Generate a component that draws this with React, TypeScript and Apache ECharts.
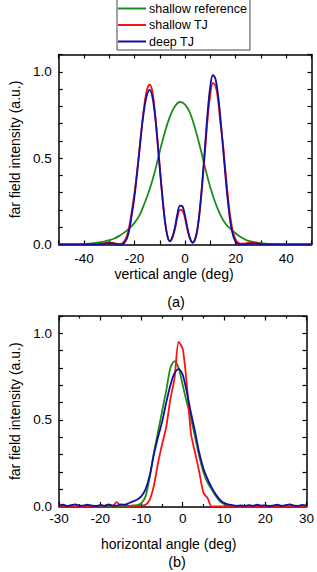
import React, { useEffect, useRef } from "react";
import * as echarts from "echarts";

// ---- (a) vertical far field ----
const vAngleRef = [-50, -46, -42, -40, -38, -36, -34, -32, -30, -28, -26, -24, -22, -20, -18, -16, -14, -12, -10, -8, -6, -4, -2, 0, 2, 4, 6, 8, 10, 12, 14, 16, 18, 20, 22, 24, 26, 28, 30, 32, 34, 38, 42, 46, 50];
const vShallowRef = [0, 0, 0.001, 0.003, 0.005, 0.008, 0.012, 0.017, 0.025, 0.035, 0.05, 0.07, 0.095, 0.125, 0.17, 0.24, 0.32, 0.42, 0.54, 0.65, 0.74, 0.8, 0.825, 0.81, 0.76, 0.67, 0.56, 0.44, 0.33, 0.24, 0.17, 0.12, 0.09, 0.065, 0.043, 0.027, 0.018, 0.012, 0.008, 0.005, 0.003, 0.001, 0, 0, 0];

const vAngleTJ = [-50, -44, -38, -34, -32, -30, -28, -26, -25, -24, -23, -22, -21, -20, -19, -18, -17, -16, -15, -14, -13, -12, -11, -10, -9, -8, -7, -6, -5, -4, -3, -2, -1, 0, 1, 2, 3, 4, 5, 6, 7, 8, 9, 10, 11, 12, 13, 14, 15, 16, 17, 18, 19, 20, 21, 22, 24, 26, 28, 30, 32, 36, 44, 50];
const vShallowTJ = [0, 0, 0.001, 0.003, 0.008, 0.012, 0.008, 0.002, 0.005, 0.02, 0.05, 0.11, 0.2, 0.3, 0.42, 0.56, 0.7, 0.82, 0.9, 0.925, 0.89, 0.78, 0.62, 0.45, 0.28, 0.14, 0.05, 0.018, 0.04, 0.09, 0.16, 0.2, 0.195, 0.15, 0.08, 0.03, 0.012, 0.035, 0.1, 0.22, 0.38, 0.56, 0.74, 0.87, 0.935, 0.92, 0.84, 0.7, 0.58, 0.42, 0.27, 0.15, 0.07, 0.03, 0.01, 0.005, 0.006, 0.012, 0.01, 0.004, 0.001, 0, 0, 0];
const vDeepTJ = [0, 0, 0, 0.001, 0.004, 0.008, 0.004, 0, 0, 0.01, 0.035, 0.09, 0.18, 0.28, 0.41, 0.55, 0.69, 0.8, 0.87, 0.895, 0.86, 0.76, 0.61, 0.44, 0.28, 0.14, 0.05, 0.018, 0.045, 0.1, 0.18, 0.225, 0.22, 0.165, 0.09, 0.035, 0.01, 0.03, 0.1, 0.23, 0.4, 0.59, 0.78, 0.92, 0.98, 0.96, 0.87, 0.73, 0.56, 0.39, 0.24, 0.12, 0.05, 0.015, 0.003, 0, 0.002, 0.005, 0.006, 0.002, 0, 0, 0, 0];

// ---- (b) horizontal far field ----
const hAngle = [-30, -29, -28, -27, -26, -25, -24, -23, -22, -21, -20, -19, -18, -17, -16, -15, -14, -13, -12, -11, -10, -9, -8, -7, -6, -5, -4, -3, -2, -1, 0, 1, 2, 3, 4, 5, 6, 7, 8, 9, 10, 11, 12, 13, 14, 15, 16, 17, 18, 19, 20, 21, 22, 23, 24, 25, 26, 27, 28, 29, 30];
const hShallowRef = [0, 0, 0, 0, 0, 0, 0, 0, 0, 0, 0, 0, 0, 0, 0, 0, 0, 0, 0.003, 0.008, 0.02, 0.06, 0.17, 0.31, 0.43, 0.55, 0.67, 0.8, 0.84, 0.8, 0.7, 0.6, 0.51, 0.4, 0.29, 0.2, 0.14, 0.1, 0.06, 0.03, 0.015, 0.005, 0, 0, 0, 0, 0, 0, 0, 0, 0, 0, 0, 0, 0, 0, 0, 0, 0, 0, 0];
const hShallowTJ = [0, 0.003, 0, 0.002, 0, 0.004, 0, 0.002, 0.005, 0.002, 0.006, 0.004, 0.012, 0.003, 0.025, 0.004, 0.008, 0.003, 0.006, 0.003, 0.005, 0.01, 0.04, 0.12, 0.25, 0.36, 0.46, 0.62, 0.74, 0.95, 0.91, 0.7, 0.42, 0.31, 0.2, 0.08, 0.05, 0, 0, 0, 0, 0, 0, 0, 0, 0, 0, 0, 0, 0, 0, 0, 0, 0, 0, 0, 0, 0, 0, 0, 0];
const hDeepTJ = [0.005, 0.01, 0.003, 0.008, 0.012, 0.004, 0.006, 0.01, 0.005, 0.003, 0.008, 0.004, 0.01, 0.006, 0.005, 0.012, 0.01, 0.02, 0.03, 0.04, 0.06, 0.1, 0.18, 0.3, 0.4, 0.49, 0.6, 0.7, 0.77, 0.795, 0.76, 0.66, 0.54, 0.43, 0.31, 0.22, 0.16, 0.11, 0.07, 0.04, 0.02, 0.012, 0.008, 0.004, 0.006, 0.003, 0.008, 0.004, 0.01, 0.005, 0.007, 0.003, 0.006, 0.01, 0.004, 0.008, 0.012, 0.005, 0.004, 0.009, 0.006];

const seriesNames = ["shallow reference", "shallow TJ", "deep TJ"];
const colors = ["#1c8c1c", "#ff1010", "#12129e"];

const pairs = (xs: number[], ys: number[]) => xs.map((x, i) => [x, ys[i]]);

const FONT = "'Liberation Sans', Arial, sans-serif";

function yLabel(v: number) {
  const r = Math.round(v * 10);
  return r % 5 === 0 ? (r / 10).toFixed(1) : "";
}

export default function App() {
  const ref = useRef<HTMLDivElement>(null);
  useEffect(() => {
    if (!ref.current) return;
    const chart = echarts.init(ref.current, undefined, { renderer: "svg" });
    const axisLine = { show: true, onZero: false, lineStyle: { color: "#000", width: 1.5 } };
    const tick = (len: number) => ({ show: true, inside: true, length: len, lineStyle: { color: "#000", width: 1.2 } });
    const lbl = { color: "#000", fontSize: 13.5, fontFamily: FONT };
    const nameStyle = (pad: number[]) => ({ color: "#000", fontSize: 14, fontFamily: FONT, padding: pad });

    const xAxes: any[] = [
      {
        type: "value", gridIndex: 0, position: "bottom", min: -50, max: 50, interval: 10,
        axisLine, axisTick: tick(4), splitLine: { show: false },
        axisLabel: { ...lbl, margin: 7, formatter: (v: number) => (Math.round(v) % 20 === 0 ? String(Math.round(v)) : "") },
        name: "vertical angle (deg)", nameLocation: "middle", nameGap: 22, nameTextStyle: nameStyle([0, 22, 0, 0]),
      },
      {
        type: "value", gridIndex: 0, position: "top", min: -50, max: 50, interval: 10,
        axisLine, axisTick: tick(4), splitLine: { show: false }, axisLabel: { show: false },
      },
      {
        type: "value", gridIndex: 1, position: "bottom", min: -30, max: 30, interval: 10,
        axisLine, axisTick: tick(4.5), minorTick: { show: true, splitNumber: 2, length: 2.5, lineStyle: { color: "#000", width: 1.2 } },
        splitLine: { show: false }, minorSplitLine: { show: false },
        axisLabel: { ...lbl, margin: 5 },
        name: "horizontal angle (deg)", nameLocation: "middle", nameGap: 30, nameTextStyle: nameStyle([0, 28, 0, 0]),
      },
      {
        type: "value", gridIndex: 1, position: "top", min: -30, max: 30, interval: 10,
        axisLine, axisTick: tick(4.5), minorTick: { show: true, splitNumber: 2, length: 2.5, lineStyle: { color: "#000", width: 1.2 } },
        splitLine: { show: false }, minorSplitLine: { show: false }, axisLabel: { show: false },
      },
    ];
    const yAxes: any[] = [
      {
        type: "value", gridIndex: 0, position: "left", min: 0, max: 1.1, interval: 0.1,
        axisLine, axisTick: tick(4), splitLine: { show: false },
        axisLabel: { ...lbl, margin: 7, formatter: yLabel },
        name: "far field intensity (a.u.)", nameLocation: "middle", nameGap: 35, nameTextStyle: nameStyle([0, 0, 0, 0]),
      },
      {
        type: "value", gridIndex: 0, position: "right", min: 0, max: 1.1, interval: 0.1,
        axisLine, axisTick: tick(4), splitLine: { show: false }, axisLabel: { show: false },
      },
      {
        type: "value", gridIndex: 1, position: "left", min: 0, max: 1.1, interval: 0.1,
        axisLine, axisTick: tick(4), splitLine: { show: false },
        axisLabel: { ...lbl, margin: 7, formatter: yLabel },
        name: "far field intensity (a.u.)", nameLocation: "middle", nameGap: 37, nameTextStyle: nameStyle([0, 0, 0, 0]),
      },
      {
        type: "value", gridIndex: 1, position: "right", min: 0, max: 1.1, interval: 0.1,
        axisLine, axisTick: tick(4), splitLine: { show: false }, axisLabel: { show: false },
      },
    ];

    const mk = (i: number, data: number[][], axis: number, smooth: number) => ({
      type: "line", name: seriesNames[i], xAxisIndex: axis, yAxisIndex: axis,
      data, symbol: "none", smooth, z: 2 + i,
      lineStyle: { color: colors[i], width: 1.8 }, itemStyle: { color: colors[i] },
    });

    const option: any = {
      animation: false,
      textStyle: { fontFamily: FONT },
      legend: {
        data: seriesNames, orient: "vertical", left: 117, top: -1,
        icon: "rect", itemWidth: 28, itemHeight: 2, itemGap: 3.5,
        padding: [3, 3, 2, 1],
        borderColor: "#444", borderWidth: 1, backgroundColor: "#fff",
        selectedMode: false,
        textStyle: { color: "#000", fontSize: 12.5, lineHeight: 12, fontFamily: FONT, padding: [0, 0, 0, -2] },
      },
      grid: [
        { left: 49, top: 54.5, width: 262.5, height: 190 },
        { left: 45, top: 316, width: 265.5, height: 190.5 },
      ],
      xAxis: xAxes,
      yAxis: yAxes,
      series: [
        mk(0, pairs(vAngleRef, vShallowRef), 0, 0.4),
        mk(1, pairs(vAngleTJ, vShallowTJ), 0, 0.4),
        mk(2, pairs(vAngleTJ, vDeepTJ), 0, 0.4),
        mk(0, pairs(hAngle, hShallowRef), 2, 0.25),
        mk(1, pairs(hAngle, hShallowTJ), 2, 0.25),
        mk(2, pairs(hAngle, hDeepTJ), 2, 0.25),
      ],
      graphic: [
        { type: "text", x: 176, y: 302, style: { text: "(a)", fontSize: 14.5, fontFamily: FONT, fill: "#000", align: "center", verticalAlign: "middle" } },
        { type: "text", x: 177, y: 562, style: { text: "(b)", fontSize: 14.5, fontFamily: FONT, fill: "#000", align: "center", verticalAlign: "middle" } },
      ],
    };
    chart.setOption(option);
    return () => chart.dispose();
  }, []);
  return <div ref={ref} style={{ position: "fixed", left: 0, top: 0, width: 317, height: 572, background: "#fff" }} />;
}
